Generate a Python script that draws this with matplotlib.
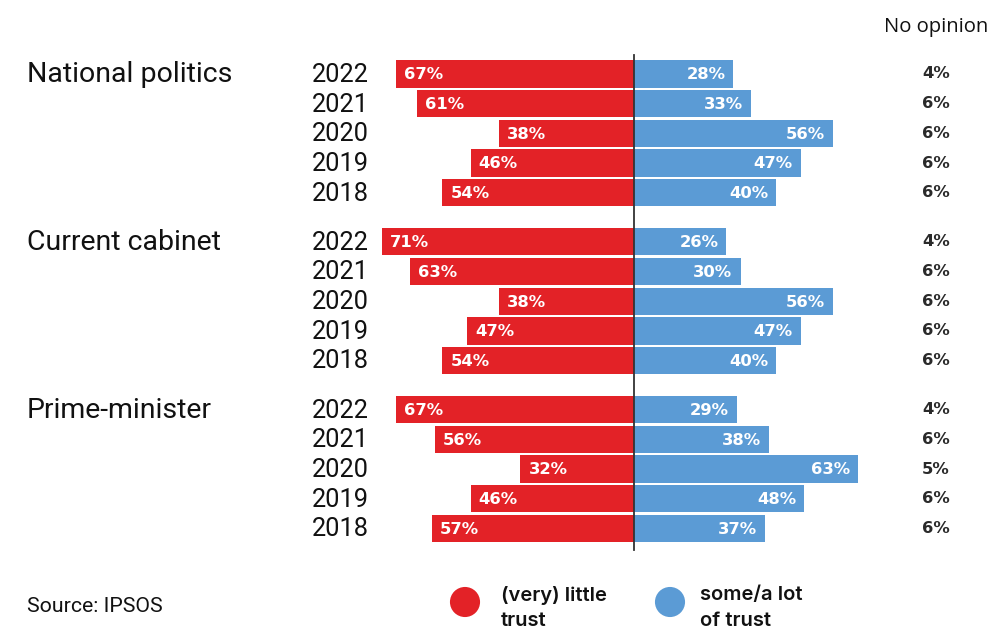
import matplotlib.pyplot as plt
import numpy as np

groups = ["National politics", "Current cabinet", "Prime-minister"]
years = ["2022", "2021", "2020", "2019", "2018"]
little_trust = [
    [67, 61, 38, 46, 54],
    [71, 63, 38, 47, 54],
    [67, 56, 32, 46, 57],
]
some_trust = [
    [28, 33, 56, 47, 40],
    [26, 30, 56, 47, 40],
    [29, 38, 63, 48, 37],
]
no_opinion = [
    [4, 6, 6, 6, 6],
    [4, 6, 6, 6, 6],
    [4, 6, 5, 6, 6],
]

RED = "#e32227"
BLUE = "#5b9bd5"
FONT = "Roboto"

W, H = 995, 629
fig = plt.figure(figsize=(W / 100, H / 100), dpi=100)
ax = fig.add_axes([0, 0, 1, 1])

# pixel layout: 0% at x=634, 3.55 px per percent; row 0 at y=74, 29.7 px per row
px_per_pct = 3.55
x0 = 634
ax.set_xlim(-x0 / px_per_pct, (W - x0) / px_per_pct)
row_px = 29.7
ax.set_ylim((H - 74) / row_px, -74 / row_px)
ax.axis("off")

group_step = 5.65
def px(x):
    return (x - x0) / px_per_pct

def py(y):
    return (y - 74) / row_px

for g, name in enumerate(groups):
    rows = g * group_step + np.arange(len(years))
    ax.barh(rows, [-v for v in little_trust[g]], height=0.92, color=RED, lw=0)
    ax.barh(rows, some_trust[g], height=0.92, color=BLUE, lw=0)
    ax.text(px(27), rows[0] + 0.03, name, fontsize=20.5, family=FONT, va="center", ha="left", color="#111")
    for r, yr, lv, sv, nv in zip(rows, years, little_trust[g], some_trust[g], no_opinion[g]):
        ax.text(px(369), r + 0.03, yr, fontsize=18.3, family=FONT, va="center", ha="right", color="#111")
        ax.text(-lv + 8 / px_per_pct, r + 0.03, f"{lv}%", fontsize=11.8, family="DejaVu Sans",
                fontweight="bold", color="white", va="center", ha="left")
        ax.text(sv - 8 / px_per_pct, r + 0.03, f"{sv}%", fontsize=11.8, family="DejaVu Sans",
                fontweight="bold", color="white", va="center", ha="right")
        ax.text(px(936), r, f"{nv}%", fontsize=11.8, family="DejaVu Sans",
                fontweight="bold", color="#2a2a2a", va="center", ha="center")

# center line
ax.plot([0, 0], [py(55), py(550)], color="#333", lw=1.3)

ax.text(px(988), py(27), "No opinion", fontsize=14.6, family="Open Sans",
        ha="right", va="center", color="#111")

# footer
ax.text(px(27), py(607), "Source: IPSOS", fontsize=15.3, family=FONT,
        ha="left", va="center", color="#111")
ax.scatter([px(465), px(670)], [py(602)] * 2, s=470, color=[RED, BLUE], lw=0)
ax.text(px(501), py(608), "(very) little\ntrust", fontsize=14.5, family="Inter",
        fontweight="semibold", ha="left", va="center", linespacing=1.5, color="#111")
ax.text(px(700), py(608), "some/a lot\nof trust", fontsize=14.5, family="Inter",
        fontweight="semibold", ha="left", va="center", linespacing=1.5, color="#111")

fig.savefig("out.png", dpi=100)
